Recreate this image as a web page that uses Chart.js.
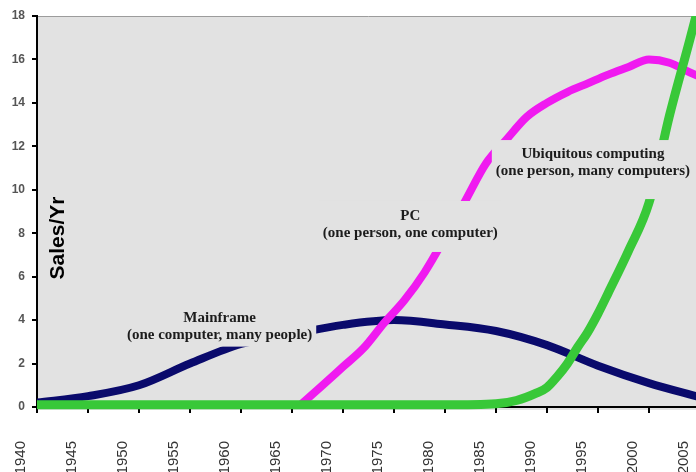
<!DOCTYPE html>
<html>
<head>
<meta charset="utf-8">
<script src="https://cdn.jsdelivr.net/npm/chart.js@4.4.1/dist/chart.umd.min.js"></script>
<style>
    html, body { margin: 0; padding: 0; overflow: hidden; background: #fff; }
</style>
</head>
<body>
<canvas id="salesChart" width="700" height="472"></canvas>
<script>
const mainframeYears = [1940, 1945, 1950, 1955, 1960, 1965, 1970, 1975, 1980, 1985, 1990, 1995, 2000, 2005];
const mainframeSales = [0.2, 0.5, 1.0, 2.0, 2.9, 3.35, 3.78, 4.0, 3.8, 3.5, 2.85, 1.9, 1.1, 0.45];

const pcYears = [1965.6, 1968, 1970, 1972, 1974, 1976, 1978, 1980, 1982, 1984, 1986, 1988, 1990, 1992, 1994, 1996, 1998, 2000, 2002, 2004, 2005];
const pcSales = [0, 1.0, 1.85, 2.7, 3.85, 4.9, 6.2, 7.8, 9.5, 11.2, 12.3, 13.35, 14.0, 14.5, 14.9, 15.3, 15.65, 16.0, 15.85, 15.4, 15.2];

const ubiquitousYears = [1940, 1980, 1985, 1987, 1989, 1990, 1991, 1992, 1993, 1994, 1995, 1996, 1998, 2000, 2002, 2004, 2005];
const ubiquitousSales = [0.1, 0.1, 0.15, 0.3, 0.65, 0.9, 1.4, 2.0, 2.75, 3.45, 4.3, 5.25, 7.2, 9.4, 13.4, 16.9, 18.7];

const yearTicks = [1940, 1945, 1950, 1955, 1960, 1965, 1970, 1975, 1980, 1985, 1990, 1995, 2000, 2005];
const salesTicks = [0, 2, 4, 6, 8, 10, 12, 14, 16, 18];

// era captions, anchored in data units (year, sales)
const eraLabels = [
    { lines: ['Mainframe', '(one computer, many people)'], year: 1957.9, sales: 3.7, padTop: 3, padBottom: 3 },
    { lines: ['PC', '(one person, one computer)'], year: 1976.6, sales: 8.38, padTop: 7, padBottom: 10 },
    { lines: ['Ubiquitous computing', '(one person, many computers)'], year: 1994.5, sales: 11.23, padTop: 6, padBottom: 19 }
];

const PLOT_BG = '#e2e2e2';
const LABEL_FONT = "bold 15px 'Liberation Serif'";

function toPoints(years, values) {
    return years.map((year, i) => ({ x: year, y: values[i] }));
}

const plotBackground = {
    id: 'plotBackground',
    beforeDraw(chart) {
        const { ctx, chartArea } = chart;
        ctx.save();
        ctx.fillStyle = PLOT_BG;
        ctx.fillRect(chartArea.left, chartArea.top, chartArea.right - chartArea.left, chartArea.bottom - chartArea.top + 3);
        ctx.strokeStyle = '#9c9c9c';
        ctx.lineWidth = 1;
        ctx.beginPath();
        ctx.moveTo(chartArea.left, chartArea.top + 0.5);
        ctx.lineTo(chartArea.right, chartArea.top + 0.5);
        ctx.stroke();
        ctx.restore();
    }
};

const eraCaptions = {
    id: 'eraCaptions',
    afterDatasetsDraw(chart) {
        const { ctx, chartArea, scales } = chart;
        const lineHeight = 17;
        ctx.save();
        ctx.beginPath();
        ctx.rect(chartArea.left, chartArea.top, chartArea.right - chartArea.left, chartArea.bottom - chartArea.top);
        ctx.clip();
        ctx.font = LABEL_FONT;
        ctx.textAlign = 'center';
        ctx.textBaseline = 'middle';

        eraLabels.forEach(label => {
            const cx = scales.x.getPixelForValue(label.year);
            const cy = scales.y.getPixelForValue(label.sales);
            const width = Math.max(...label.lines.map(line => ctx.measureText(line).width));
            const top = cy - lineHeight * label.lines.length / 2;
            const bottom = cy + lineHeight * label.lines.length / 2;
            ctx.fillStyle = PLOT_BG;
            ctx.fillRect(cx - width / 2 - 4, top - label.padTop, width + 8, bottom - top + label.padTop + label.padBottom);
            ctx.fillStyle = '#1c1c1c';
            label.lines.forEach((line, i) => {
                ctx.fillText(line, cx, top + lineHeight * (i + 0.5));
            });
        });

        // axis caption sits inside the plot
        ctx.translate(chartArea.left + 21, 238);
        ctx.rotate(-Math.PI / 2);
        ctx.font = "bold 21px 'Liberation Sans'";
        ctx.fillStyle = '#000';
        ctx.fillText('Sales/Yr', 0, 0, 83);
        ctx.restore();
    }
};

const ctx = document.getElementById('salesChart').getContext('2d');
new Chart(ctx, {
    type: 'line',
    data: {
        datasets: [
            { label: 'Mainframe', data: toPoints(mainframeYears, mainframeSales), borderColor: '#0a0a6c', borderWidth: 8, order: 2 },
            { label: 'PC', data: toPoints(pcYears, pcSales), borderColor: '#f01af0', borderWidth: 8, order: 1 },
            { label: 'Ubiquitous computing', data: toPoints(ubiquitousYears, ubiquitousSales), borderColor: '#38c838', borderWidth: 9, order: 0,
              clip: { left: 0, top: 0, right: 0, bottom: 6 } }
        ]
    },
    options: {
        responsive: false,
        animation: false,
        layout: { padding: { top: 16, right: 0, left: 0, bottom: 0 } },
        elements: {
            point: { radius: 0 },
            line: { tension: 0.4, cubicInterpolationMode: 'monotone', fill: false, borderCapStyle: 'butt' }
        },
        plugins: { legend: { display: false }, tooltip: { enabled: false } },
        scales: {
            x: {
                type: 'linear',
                min: yearTicks[0],
                max: yearTicks[yearTicks.length - 1],
                afterBuildTicks: scale => { scale.ticks = yearTicks.map(v => ({ value: v })); },
                afterFit: scale => { scale.height = 65; scale.paddingLeft = 0; scale.paddingRight = 0; },
                border: { color: '#000', width: 2 },
                grid: { drawOnChartArea: false, color: '#000', lineWidth: 2, tickLength: 6 },
                ticks: {
                    autoSkip: false,
                    minRotation: 90,
                    maxRotation: 90,
                    labelOffset: -16,
                    padding: 28,
                    color: '#333',
                    font: { family: "'Liberation Sans'", size: 15 },
                    callback: value => String(value)
                }
            },
            y: {
                min: 0,
                max: 18,
                afterBuildTicks: scale => { scale.ticks = salesTicks.map(v => ({ value: v })); },
                afterFit: scale => { scale.width = 37; },
                border: { color: '#000', width: 2 },
                grid: { drawOnChartArea: false, color: '#000', lineWidth: 2, tickLength: 5 },
                ticks: {
                    padding: 7,
                    color: '#555',
                    font: { family: "'Liberation Sans'", size: 12, weight: 'bold' }
                }
            }
        }
    },
    plugins: [plotBackground, eraCaptions]
});
</script>
</body>
</html>
